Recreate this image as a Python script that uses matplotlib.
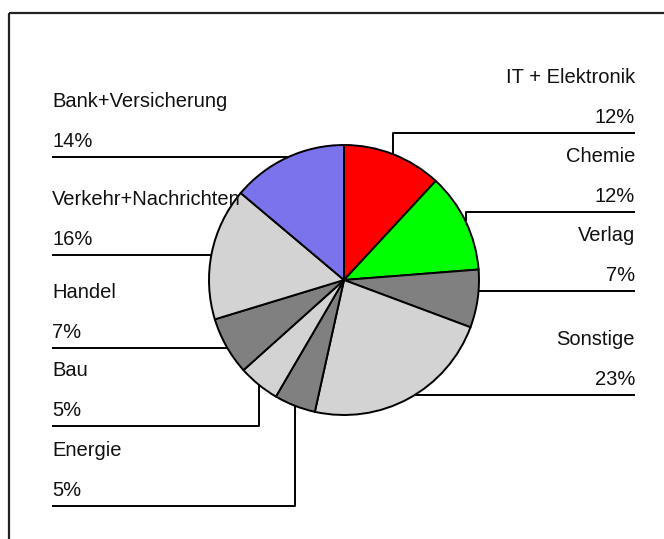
import numpy as np
import matplotlib
matplotlib.use("Agg")
import matplotlib.pyplot as plt

# Branchenverteilung (Anteile in Prozent)
categories = ["IT + Elektronik", "Chemie", "Verlag", "Sonstige", "Energie",
              "Bau", "Handel", "Verkehr+Nachrichten", "Bank+Versicherung"]
shares = [12, 12, 7, 23, 5, 5, 7, 16, 14]
pct_labels = ["12%", "12%", "7%", "23%", "5%", "5%", "7%", "16%", "14%"]

colors = ["#ff0000", "#00ff00", "#808080", "#d3d3d3", "#808080",
          "#d3d3d3", "#808080", "#d3d3d3", "#7b73eb"]

# label layout: side, y of the underline (pixels from top), connector kind
label_side = ["r", "r", "r", "r", "l", "l", "l", "l", "l"]
label_line_y = [133, 212, 291, 395, 506, 426, 348, 255, 157]
label_conn = ["v", "v", "h", "h", "v", "v", "h", "h", "h"]

W, H = 664, 539
fig = plt.figure(figsize=(W / 100, H / 100), dpi=100)
ax = fig.add_axes([0, 0, 1, 1])


def py(y):
    """pixel row (from top) -> data y"""
    return H - y


cx, cy = 344, 280
r = 135

ax.pie(shares, colors=colors, startangle=90, counterclock=False,
       center=(cx, py(cy)), radius=r, frame=True,
       wedgeprops=dict(edgecolor="black", linewidth=1.4))
ax.set_xlim(0, W)
ax.set_ylim(0, H)
ax.set_aspect("equal")
ax.axis("off")

# frame (top and left edges)
ax.plot([9, W], [py(13), py(13)], color="#222222", lw=1.6, solid_capstyle="butt")
ax.plot([9, 9], [py(13), 0], color="#222222", lw=1.6, solid_capstyle="butt")

font = dict(family=["Liberation Sans", "DejaVu Sans"], fontsize=14.5, color="#111111")
x_left, x_right = 52, 635
line_kw = dict(color="black", lw=1.4, solid_capstyle="butt")

total = float(sum(shares))
cum = np.cumsum([0] + shares) / total
for i, name in enumerate(categories):
    mid = np.deg2rad(360 * (cum[i] + cum[i + 1]) / 2)
    mx = cx + r * np.sin(mid)
    my = cy - r * np.cos(mid)
    ly = label_line_y[i]
    side = label_side[i]
    x_end = x_right if side == "r" else x_left
    if label_conn[i] == "v":
        ax.plot([mx, mx, x_end], [py(my), py(ly), py(ly)], **line_kw)
    else:
        dx = np.sqrt(max(r ** 2 - (ly - cy) ** 2, 0))
        x0 = cx + dx if side == "r" else cx - dx
        ax.plot([x0, x_end], [py(ly), py(ly)], **line_kw)
    ha = "right" if side == "r" else "left"
    ax.text(x_end, py(ly - 10), pct_labels[i], ha=ha, va="baseline", **font)
    ax.text(x_end, py(ly - 50), name, ha=ha, va="baseline", **font)

fig.savefig("out.png", dpi=100)
